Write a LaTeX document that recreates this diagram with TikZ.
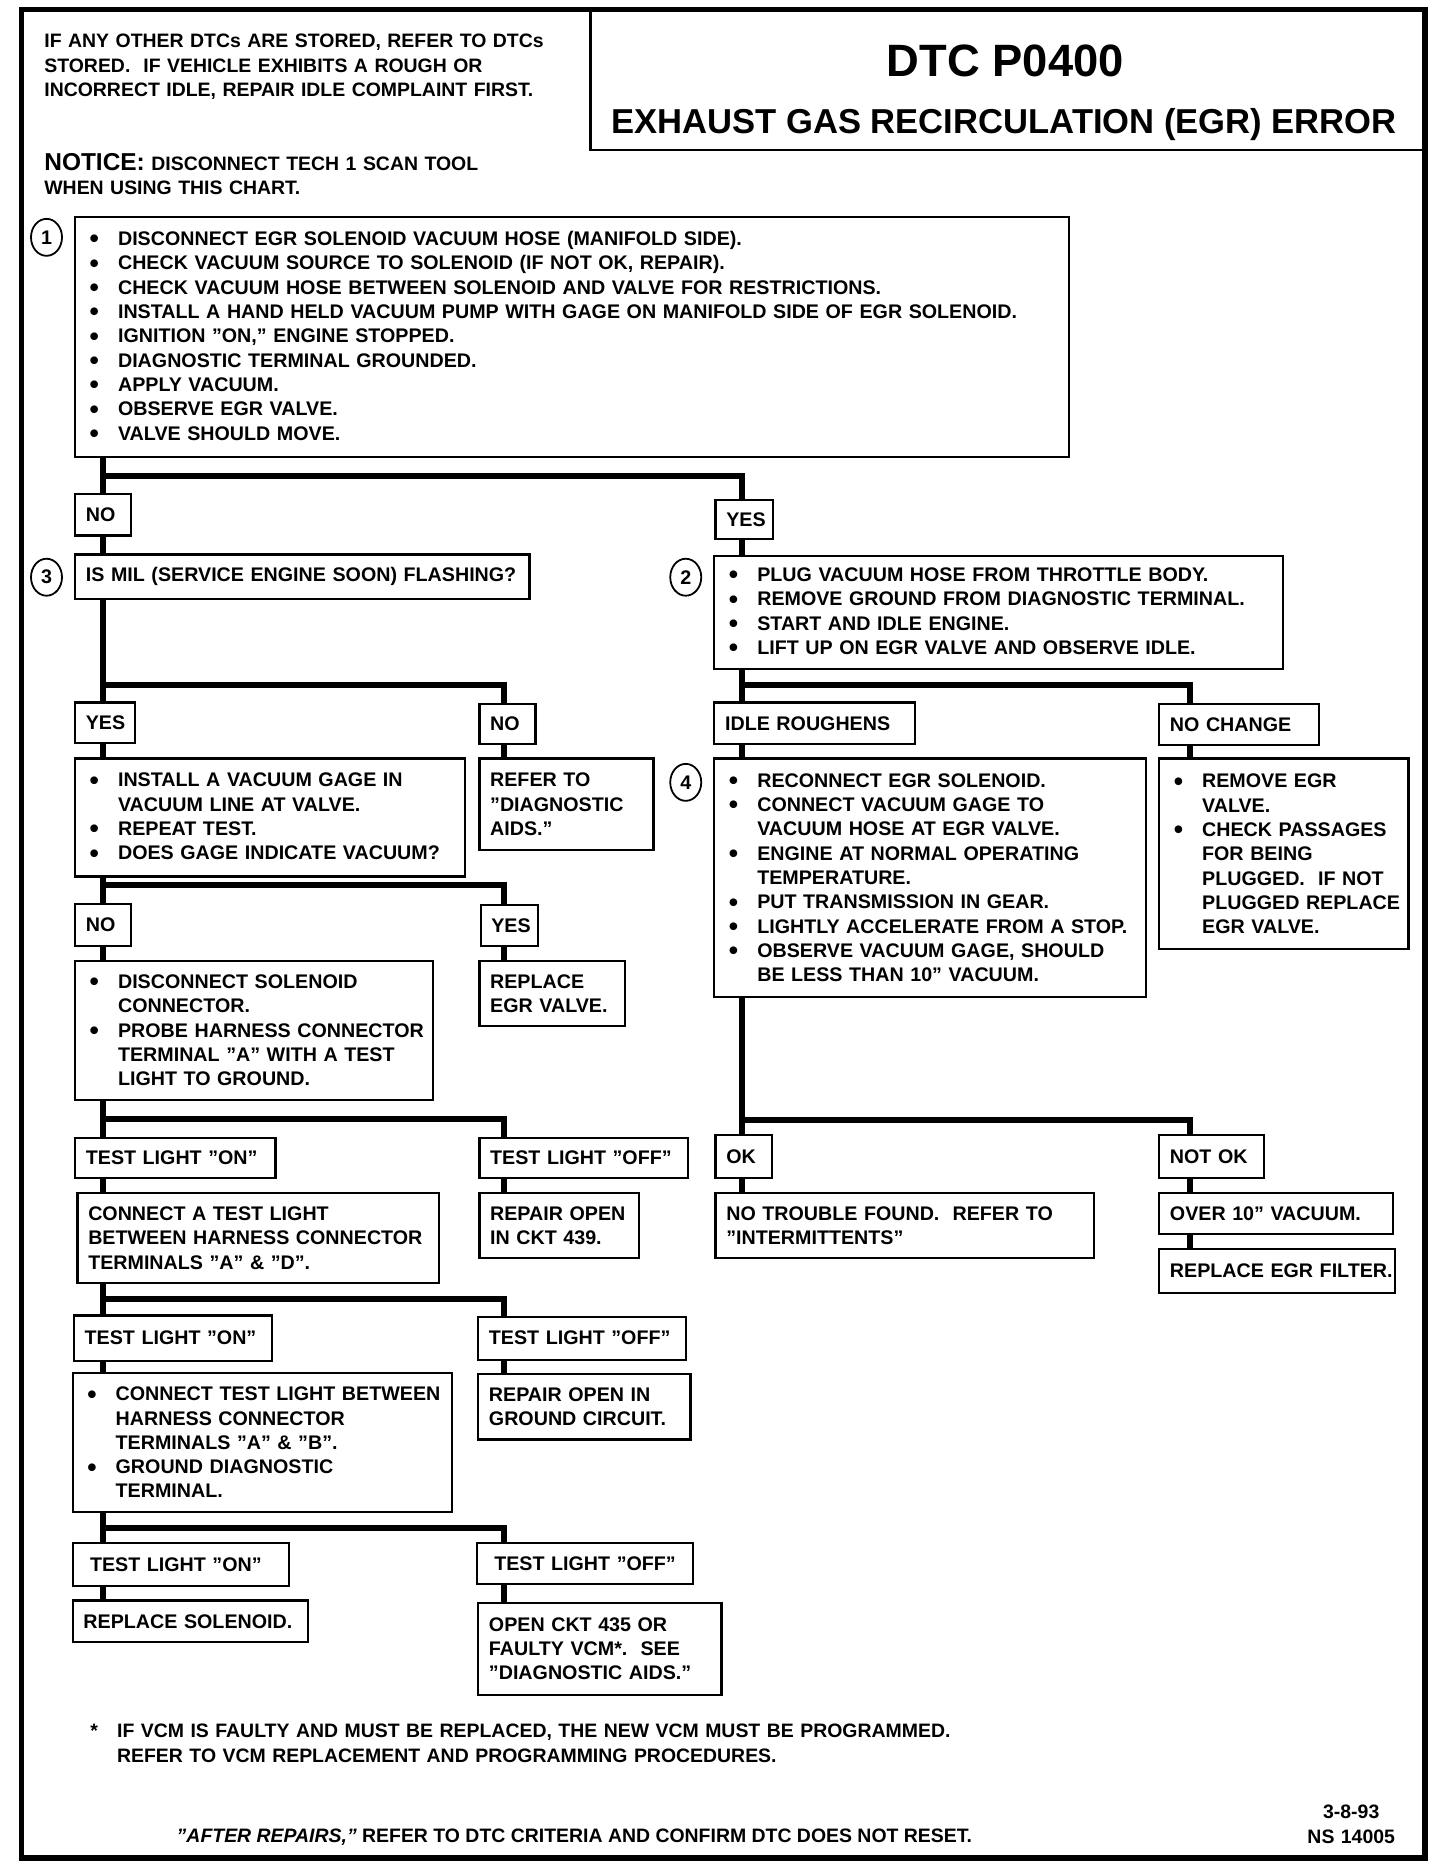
\documentclass[tikz,border=0pt]{standalone}
\usepackage{fontspec}
\setmainfont{Liberation Sans}
\usetikzlibrary{positioning,shapes.geometric,calc}

\newcommand\bodyfont{\fontsize{16.5}{20.4}\selectfont\bfseries}
\newcommand\notefont{\fontsize{16.3}{20.5}\selectfont\bfseries}
\newcommand\bul{\leavevmode\llap{\raisebox{-2pt}{\scalebox{1.35}{\textbullet}}\hspace{16pt}}}

\tikzset{
  dtc/box/.style={draw, line width=1.8pt, inner sep=0pt, outer sep=0pt, anchor=north west, align=left, font=\bodyfont},
  dtc/list/.style={dtc/box, execute at begin node={\leftskip=36pt\rightskip=0pt plus 1fil minus 20pt\hyphenpenalty=10000\relax}},
  dtc/plain/.style={dtc/box, execute at begin node={\leftskip=9pt\rightskip=0pt plus 1fil minus 20pt\hyphenpenalty=10000\relax}},
  dtc/num/.style={draw, ellipse, line width=1.5pt, minimum width=26pt, minimum height=31pt, inner sep=0pt, font=\bodyfont},
  dtc/flow/.style={line width=5pt},
  dtc/note/.style={inner sep=0pt, align=left, anchor=base west, font=\notefont},
  wh/.style 2 args={text width=#1pt, minimum height=#2pt}
}

\begin{document}
\begin{tikzpicture}[x=1pt, y=-1pt]
\useasboundingbox (0,0) rectangle (1207,1568);

% frame and title block
\draw[line width=4.5pt] (18,8) rectangle (1195,1558);
\draw[line width=2pt] (495,8) |- (1195,126);
\node[font=\fontsize{38}{40}\selectfont\bfseries, anchor=base] (title) at (843,64) {DTC P0400};
\node[font=\fontsize{29}{32}\selectfont\bfseries, anchor=base] (subtitle) at (842,112) {EXHAUST GAS RECIRCULATION (EGR) ERROR};

\node[dtc/note, text width=470pt] (hdr) at (37,40) {IF ANY OTHER DTCs ARE STORED, REFER TO DTCs\\
  STORED.\ \ IF VEHICLE EXHIBITS A ROUGH OR\\
  INCORRECT IDLE, REPAIR IDLE COMPLAINT FIRST.};
\node[dtc/note, text width=470pt] (notice) at (37,143) {{\fontsize{20.5}{20}\selectfont NOTICE:}\ DISCONNECT TECH 1 SCAN TOOL\\
  WHEN USING THIS CHART.};

% columns of the connectors
\coordinate (colA) at (86,0);
\coordinate (colB) at (423,0);
\coordinate (colC) at (622,0);
\coordinate (colD) at (998,0);

% step 1
\node[dtc/list, wh={833}{201}] (s1) at (63,182) {\bul DISCONNECT EGR SOLENOID VACUUM HOSE (MANIFOLD SIDE).\\
  \bul CHECK VACUUM SOURCE TO SOLENOID (IF NOT OK, REPAIR).\\
  \bul CHECK VACUUM HOSE BETWEEN SOLENOID AND VALVE FOR RESTRICTIONS.\\
  \bul INSTALL A HAND HELD VACUUM PUMP WITH GAGE ON MANIFOLD SIDE OF EGR SOLENOID.\\
  \bul IGNITION ''ON,'' ENGINE STOPPED.\\
  \bul DIAGNOSTIC TERMINAL GROUNDED.\\
  \bul APPLY VACUUM.\\
  \bul OBSERVE EGR VALVE.\\
  \bul VALVE SHOULD MOVE.};
\node[dtc/num] (n1) at (39,199) {1};

\node[dtc/plain, wh={47}{35}] (no1) at (63,414) {NO};
\node[dtc/plain, wh={48}{33}] (yes1) at (600,419) {YES};

% step 3 (left) and step 2 (right)
\node[dtc/plain, wh={381}{37}] (s3) at (63,465) {IS MIL (SERVICE ENGINE SOON) FLASHING?};
\node[dtc/num] (n3) at (39,484) {3};
\node[dtc/list, wh={477}{95}] (s2) at (599,466) {\bul PLUG VACUUM HOSE FROM THROTTLE BODY.\\
  \bul REMOVE GROUND FROM DIAGNOSTIC TERMINAL.\\
  \bul START AND IDLE ENGINE.\\
  \bul LIFT UP ON EGR VALVE AND OBSERVE IDLE.};
\node[dtc/num] (n2) at (575,484) {2};

\node[dtc/plain, wh={50}{34}] (yes3) at (63,589) {YES};
\node[dtc/plain, wh={47}{34}] (no3) at (402,590) {NO};
\node[dtc/plain, wh={168}{35}] (rough) at (599,589) {IDLE ROUGHENS};
\node[dtc/plain, wh={134}{35}] (nochg) at (972,590) {NO CHANGE};

\node[dtc/list, wh={327}{99}] (s4) at (63,636) {\bul INSTALL A VACUUM GAGE IN\\
  VACUUM LINE AT VALVE.\\
  \bul REPEAT TEST.\\
  \bul DOES GAGE INDICATE VACUUM?};
\node[dtc/plain, wh={146}{77}] (aids1) at (402,636) {REFER TO\\ ''DIAGNOSTIC\\ AIDS.''};

% step 4
\node[dtc/list, wh={362}{200}] (s4r) at (599,636) {\bul RECONNECT EGR SOLENOID.\\
  \bul CONNECT VACUUM GAGE TO\\
  VACUUM HOSE AT EGR VALVE.\\
  \bul ENGINE AT NORMAL OPERATING\\
  TEMPERATURE.\\
  \bul PUT TRANSMISSION IN GEAR.\\
  \bul LIGHTLY ACCELERATE FROM A STOP.\\
  \bul OBSERVE VACUUM GAGE, SHOULD\\
  BE LESS THAN 10'' VACUUM.};
\node[dtc/num] (n4) at (575,656) {4};
\node[dtc/list, wh={209}{160}] (egr) at (972,636) {\bul REMOVE EGR\\
  VALVE.\\
  \bul CHECK PASSAGES\\
  FOR BEING\\
  PLUGGED.\ \ IF NOT\\
  PLUGGED REPLACE\\
  EGR VALVE.};

\node[dtc/plain, wh={47}{35}] (no5) at (63,758) {NO};
\node[dtc/plain, wh={48}{34}] (yes5) at (403,759) {YES};
\node[dtc/list, wh={300}{116}] (s5) at (63,806) {\bul DISCONNECT SOLENOID\\
  CONNECTOR.\\
  \bul PROBE HARNESS CONNECTOR\\
  TERMINAL ''A'' WITH A TEST\\
  LIGHT TO GROUND.};
\node[dtc/plain, wh={122}{54}] (repl1) at (402,806) {REPLACE\\ EGR VALVE.};

\node[dtc/plain, wh={168}{34}] (on1) at (63,954) {TEST LIGHT ''ON''};
\node[dtc/plain, wh={175}{34}] (off1) at (402,954) {TEST LIGHT ''OFF''};
\node[dtc/plain, wh={303}{76}] (s6) at (65,1000) {CONNECT A TEST LIGHT\\
  BETWEEN HARNESS CONNECTOR\\
  TERMINALS ''A'' \& ''D''.};
\node[dtc/plain, wh={134}{55}] (ckt439) at (402,1000) {REPAIR OPEN\\ IN CKT 439.};

\node[dtc/plain, wh={166}{38}] (on2) at (62,1103) {TEST LIGHT ''ON''};
\node[dtc/plain, wh={174}{36}] (off2) at (401,1104) {TEST LIGHT ''OFF''};
\node[dtc/list, wh={318}{117}] (s7) at (61,1151) {\bul CONNECT TEST LIGHT BETWEEN\\
  HARNESS CONNECTOR\\
  TERMINALS ''A'' \& ''B''.\\
  \bul GROUND DIAGNOSTIC\\
  TERMINAL.};
\node[dtc/plain, wh={178}{55}] (gnd) at (401,1152) {REPAIR OPEN IN\\ GROUND CIRCUIT.};

\node[dtc/plain, wh={181}{36}] (on3) at (61,1294) {\ TEST LIGHT ''ON''};
\node[dtc/plain, wh={181}{34}] (off3) at (400,1294) {\ TEST LIGHT ''OFF''};
\node[dtc/plain, wh={197}{35}] (solen) at (61,1342) {REPLACE SOLENOID.};
\node[dtc/plain, wh={204}{77}] (vcm) at (401,1344) {OPEN CKT 435 OR\\
  FAULTY VCM*.\ \ SEE\\
  ''DIAGNOSTIC AIDS.''};

\node[dtc/plain, wh={47}{36}] (ok) at (600,952) {OK};
\node[dtc/plain, wh={88}{36}] (notok) at (972,952) {NOT OK};
\node[dtc/plain, wh={317}{55}] (trouble) at (600,1000) {NO TROUBLE FOUND.\ \ REFER TO\\ ''INTERMITTENTS''};
\node[dtc/plain, wh={196}{35}] (over10) at (972,1000) {OVER 10'' VACUUM.};
\node[dtc/plain, wh={198}{37}] (filter) at (972,1047) {REPLACE EGR FILTER.};

% connectors
\draw[dtc/flow] (s1.south -| colA) -- (no1.north -| colA);
\draw[dtc/flow] (no1.north -| colA) ++(0,-15) -| (yes1.north -| colC);
\draw[dtc/flow] (no1.south -| colA) -- (s3.north -| colA);
\draw[dtc/flow] (yes1.south -| colC) -- (s2.north -| colC);

\draw[dtc/flow] (s3.south -| colA) -- (yes3.north -| colA);
\draw[dtc/flow] (yes3.north -| colA) ++(0,-15) -| (no3.north -| colB);
\draw[dtc/flow] (s2.south -| colC) -- (rough.north -| colC);
\draw[dtc/flow] (rough.north -| colC) ++(0,-15) -| (nochg.north -| colD);

\draw[dtc/flow] (yes3.south -| colA) -- (s4.north -| colA);
\draw[dtc/flow] (no3.south -| colB) -- (aids1.north -| colB);
\draw[dtc/flow] (rough.south -| colC) -- (s4r.north -| colC);
\draw[dtc/flow] (nochg.south -| colD) -- (egr.north -| colD);

\draw[dtc/flow] (s4.south -| colA) -- (no5.north -| colA);
\draw[dtc/flow] (no5.north -| colA) ++(0,-16) -| (yes5.north -| colB);
\draw[dtc/flow] (no5.south -| colA) -- (s5.north -| colA);
\draw[dtc/flow] (yes5.south -| colB) -- (repl1.north -| colB);

\draw[dtc/flow] (s5.south -| colA) -- (on1.north -| colA);
\draw[dtc/flow] (on1.north -| colA) ++(0,-16) -| (off1.north -| colB);
\draw[dtc/flow] (on1.south -| colA) -- (s6.north -| colA);
\draw[dtc/flow] (off1.south -| colB) -- (ckt439.north -| colB);

\draw[dtc/flow] (s6.south -| colA) -- (on2.north -| colA);
\draw[dtc/flow] (on2.north -| colA) ++(0,-14) -| (off2.north -| colB);
\draw[dtc/flow] (on2.south -| colA) -- (s7.north -| colA);
\draw[dtc/flow] (off2.south -| colB) -- (gnd.north -| colB);

\draw[dtc/flow] (s7.south -| colA) -- (on3.north -| colA);
\draw[dtc/flow] (on3.north -| colA) ++(0,-13) -| (off3.north -| colB);
\draw[dtc/flow] (on3.south -| colA) -- (solen.north -| colA);
\draw[dtc/flow] (off3.south -| colB) -- (vcm.north -| colB);

\draw[dtc/flow] (s4r.south -| colC) -- (ok.north -| colC);
\draw[dtc/flow] (ok.north -| colC) ++(0,-13) -| (notok.north -| colD);
\draw[dtc/flow] (ok.south -| colC) -- (trouble.north -| colC);
\draw[dtc/flow] (notok.south -| colD) -- (over10.north -| colD);
\draw[dtc/flow] (over10.south -| colD) -- (filter.north -| colD);

% footer
\node[dtc/note, text width=800pt] (foot) at (98,1457) {\llap{*\hspace{16pt}}IF VCM IS FAULTY AND MUST BE REPLACED, THE NEW VCM MUST BE PROGRAMMED.\\
  REFER TO VCM REPLACEMENT AND PROGRAMMING PROCEDURES.};
\node[dtc/note] (after) at (148,1545) {{\itshape ''AFTER REPAIRS,''} REFER TO DTC CRITERIA AND CONFIRM DTC DOES NOT RESET.};
\node[dtc/note, anchor=base, align=center, text width=100pt] (stamp) at (1133,1525) {3-8-93\\ NS 14005};
\end{tikzpicture}
\end{document}
